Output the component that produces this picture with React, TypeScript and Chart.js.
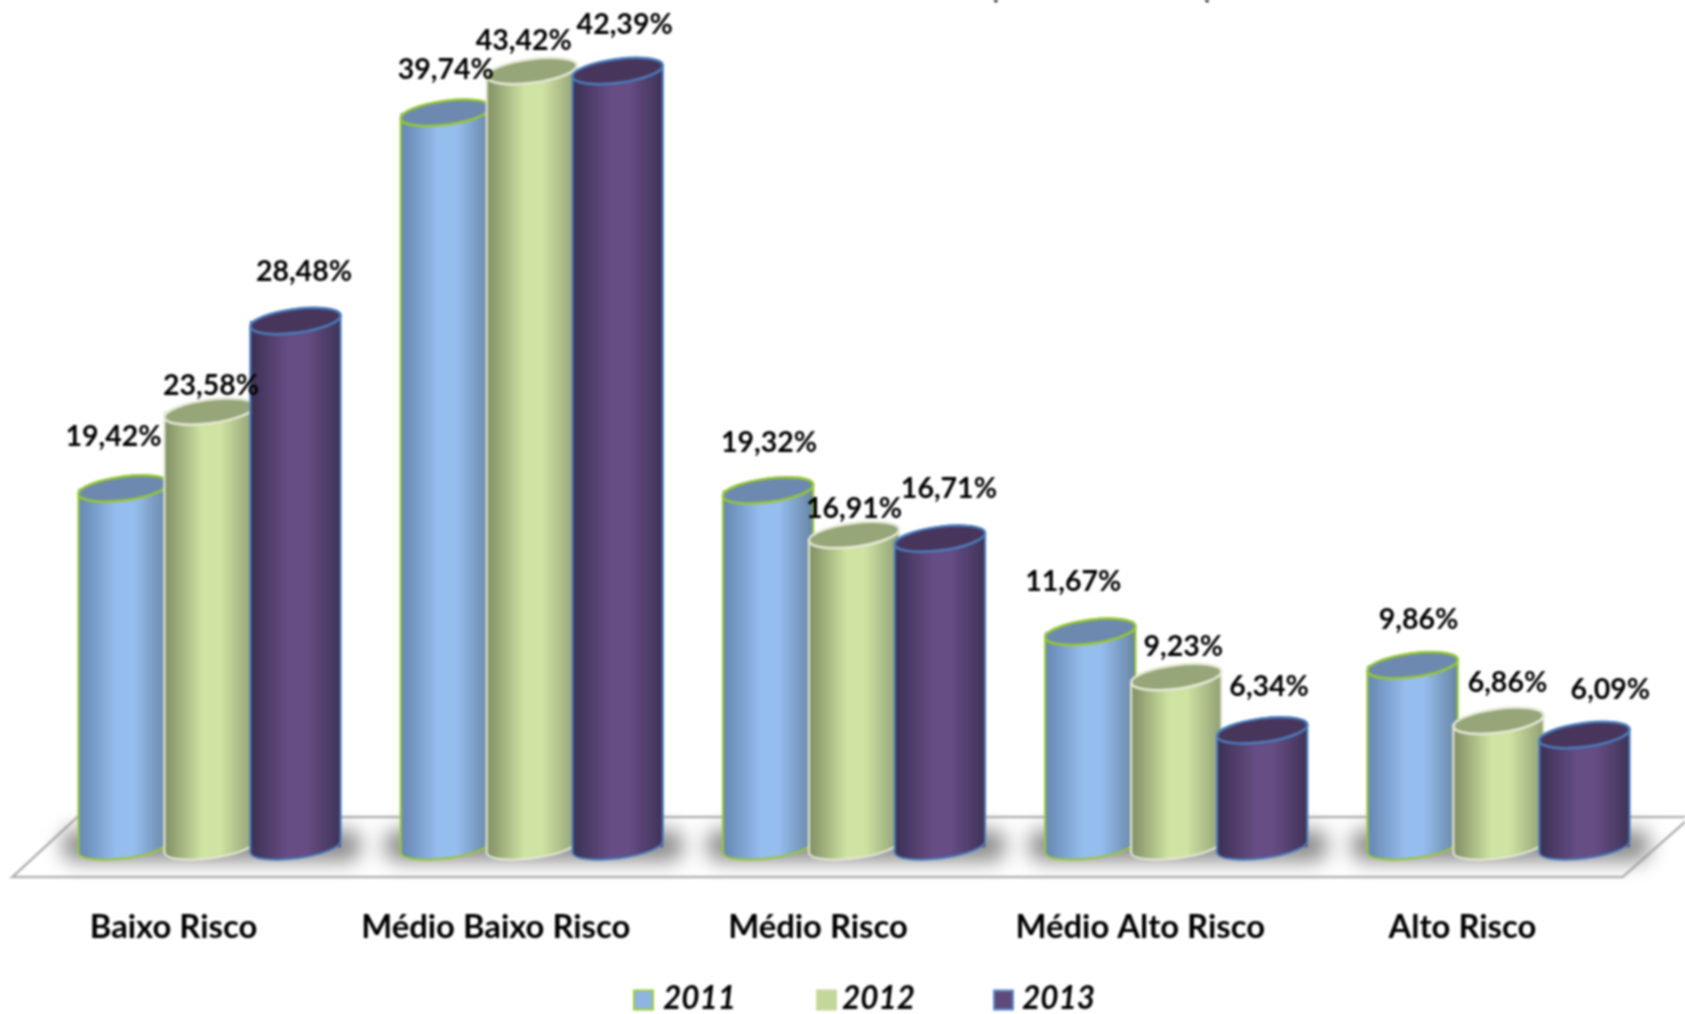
import React, { useEffect, useRef } from "react";
import { Chart, registerables } from "chart.js";

Chart.register(...registerables);

const categories = ["Baixo Risco", "Médio Baixo Risco", "Médio Risco", "Médio Alto Risco", "Alto Risco"];
const years = ["2011", "2012", "2013"];
const values2011 = [19.42, 39.74, 19.32, 11.67, 9.86];
const values2012 = [23.58, 43.42, 16.91, 9.23, 6.86];
const values2013 = [28.48, 42.39, 16.71, 6.34, 6.09];
const axisMax = 42;

const FONT = "Lato, 'Open Sans', sans-serif";
const TEXT = "#000000";

type Look = { swatch: string; stroke: string; cap: string; edgeL: string; mid: string; edgeR: string; swatchStroke: string };
const looks: Look[] = [
  { swatch: "#8eb4e3", swatchStroke: "#9ccb3b", stroke: "#97c832", cap: "#6d89af", edgeL: "#6a8cb6", mid: "#95bdee", edgeR: "#6a88a8" },
  { swatch: "#c4d79b", swatchStroke: "#c4d79b", stroke: "#e6e9d8", cap: "#96a678", edgeL: "#87976a", mid: "#cfe3a2", edgeR: "#94a478" },
  { swatch: "#604a7b", swatchStroke: "#5b8bc9", stroke: "#4a7ebd", cap: "#48355b", edgeL: "#3f3358", mid: "#664d84", edgeR: "#41345a" },
];

// Text nudges [dx, dy] of each value label from the top of its cylinder, by series then category.
const labelNudges: number[][][] = [
  [[-10, -51.5], [0, -42.5], [1, -47.5], [-17, -50.5], [6, -45.5]],
  [[1.5, -25.5], [-8, -30.5], [0, -26.5], [7, -30.5], [9, -37.5]],
  [[8.5, -49.5], [7, -46.5], [9, -49.5], [7, -43.5], [26, -45.5]],
];

const TILT = (-7.5 * Math.PI) / 180;
const formatValue = (v: number) => v.toFixed(2).replace(".", ",") + "%";

const scene3d = {
  id: "scene3d",
  beforeDatasetsDraw(chart: any) {
    const { ctx, chartArea: a } = chart;
    // Floor
    ctx.save();
    ctx.beginPath();
    ctx.moveTo(a.left - 36, a.bottom + 29.5);
    ctx.lineTo(a.right - 37, a.bottom + 29.5);
    ctx.lineTo(a.right + 31, a.bottom - 30.5);
    ctx.lineTo(a.left + 29, a.bottom - 30.5);
    ctx.closePath();
    ctx.fillStyle = "#ffffff";
    ctx.fill();
    ctx.strokeStyle = "#b4b4b4";
    ctx.lineWidth = 2.5;
    ctx.stroke();
    // Soft shadow under each group
    ctx.filter = "blur(10px)";
    ctx.fillStyle = "#8c8c8c";
    const first = chart.getDatasetMeta(0).data;
    const last = chart.getDatasetMeta(2).data;
    first.forEach((el: any, i: number) => {
      const x0 = el.x - el.width / 2 - 16;
      const x1 = last[i].x + last[i].width / 2 + 20;
      ctx.beginPath();
      ctx.roundRect(x0, a.bottom - 18, x1 - x0, 32, 14);
      ctx.fill();
    });
    ctx.restore();
  },
  afterDatasetsDraw(chart: any) {
    const { ctx, chartArea: a } = chart;
    ctx.save();
    chart.data.datasets.forEach((_: any, d: number) => {
      const look = looks[d];
      chart.getDatasetMeta(d).data.forEach((el: any) => {
        const rx = el.width / 2;
        const ry = rx * 0.26;
        const top = Math.max(el.y, a.top);
        const base = el.base - 1;
        const g = ctx.createLinearGradient(el.x - rx, 0, el.x + rx, 0);
        g.addColorStop(0, look.edgeL);
        g.addColorStop(0.05, look.edgeL);
        g.addColorStop(0.42, look.mid);
        g.addColorStop(0.62, look.mid);
        g.addColorStop(0.97, look.edgeR);
        g.addColorStop(1, look.edgeR);
        ctx.beginPath();
        ctx.ellipse(el.x, top, rx, ry, TILT, Math.PI, 2 * Math.PI, false);
        ctx.ellipse(el.x, base, rx, ry, TILT, 0, Math.PI, false);
        ctx.closePath();
        ctx.fillStyle = g;
        ctx.fill();
        ctx.strokeStyle = look.stroke;
        ctx.lineWidth = 2;
        ctx.stroke();
        ctx.beginPath();
        ctx.ellipse(el.x, top, rx, ry, TILT, 0, 2 * Math.PI);
        ctx.fillStyle = look.cap;
        ctx.fill();
        ctx.lineWidth = 2.5;
        ctx.stroke();
      });
    });
    // Value labels
    ctx.font = `bold 28.5px ${FONT}`;
    ctx.fillStyle = TEXT;
    ctx.textAlign = "center";
    ctx.textBaseline = "middle";
    chart.data.datasets.forEach((ds: any, d: number) => {
      chart.getDatasetMeta(d).data.forEach((el: any, i: number) => {
        const top = Math.max(el.y, a.top);
        const [dx, dy] = labelNudges[d][i];
        ctx.fillText(formatValue(ds.data[i]), el.x + dx, top + dy);
      });
    });
    // Legend row
    const swatchX = [634, 817, 994];
    const legendTextX = [663, 842, 1022];
    ctx.font = `italic bold 31.5px ${FONT}`;
    ctx.textAlign = "left";
    chart.data.datasets.forEach((ds: any, d: number) => {
      const look = looks[d];
      ctx.fillStyle = look.swatch;
      ctx.strokeStyle = look.swatchStroke;
      ctx.lineWidth = 2;
      ctx.fillRect(swatchX[d], 990.5, 19, 19);
      ctx.strokeRect(swatchX[d], 990.5, 19, 19);
      ctx.fillStyle = TEXT;
      ctx.fillText(ds.label, legendTextX[d], 999);
    });
    // The bottom of the cropped heading's brackets
    ctx.font = `bold 36px ${FONT}`;
    ctx.textAlign = "center";
    ctx.textBaseline = "alphabetic";
    ctx.fillText("(", 994, -3);
    ctx.fillText(")", 1209, -3);
    ctx.restore();
  },
};

export default function App() {
  const ref = useRef<HTMLCanvasElement>(null);
  useEffect(() => {
    if (!ref.current) return;
    const series = [values2011, values2012, values2013];
    const chart = new Chart(ref.current, {
      type: "bar",
      data: {
        labels: categories,
        datasets: years.map((y, d) => ({
          label: y,
          data: series[d],
          backgroundColor: looks[d].swatch,
          categoryPercentage: 0.8,
          barPercentage: 1.06,
        })),
      },
      options: {
        responsive: false,
        animation: false,
        layout: { padding: { left: 48.4, right: 25.4, top: 71, bottom: 0 } },
        plugins: { legend: { display: false }, tooltip: { enabled: false }, title: { display: false } },
        scales: {
          x: {
            border: { display: false },
            grid: { display: false, drawTicks: false },
            afterFit: (s: any) => { s.height = 1014 - 847.6; },
            ticks: {
              autoSkip: false,
              maxRotation: 0,
              labelOffset: -36,
              padding: 60,
              color: TEXT,
              font: { family: FONT, size: 32.8, weight: "bold" },
            },
          },
          y: { display: false, min: 0, max: axisMax },
        },
      },
      plugins: [scene3d],
    } as any);
    return () => chart.destroy();
  }, []);
  return (
    <div style={{ position: "absolute", left: 0, top: 0, width: 1685, height: 1014, background: "#fff", overflow: "hidden" }}>
      <canvas ref={ref} width={1685} height={1014} style={{ display: "block", filter: "blur(0.9px)" }} />
    </div>
  );
}
